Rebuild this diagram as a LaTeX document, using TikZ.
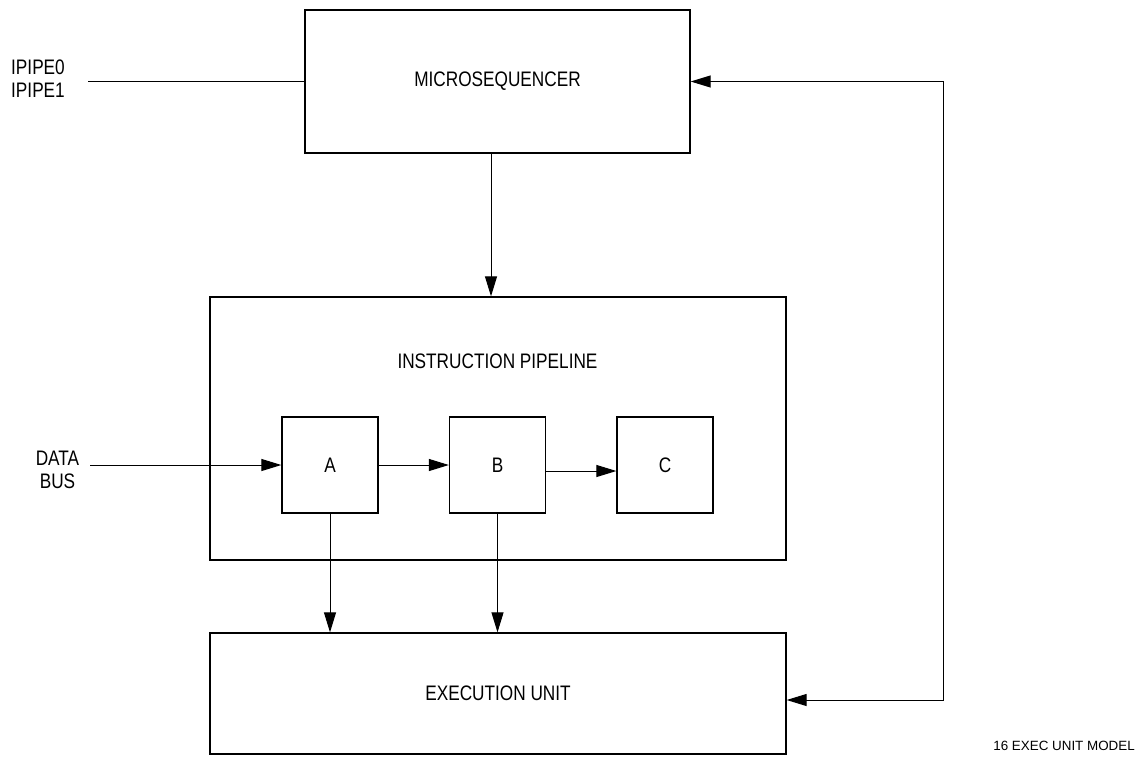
\documentclass[tikz,border=0pt]{standalone}
\usepackage{fontspec}
\setmainfont{Liberation Sans}
\newfontfamily\narrowfont[FakeStretch=0.82]{Liberation Sans}
\usetikzlibrary{arrows.meta}
\tikzset{
  box/.style={draw, line width=1.3pt, inner sep=0pt, font=\narrowfont\fontsize{21}{24}\selectfont},
  lbl/.style={inner sep=0pt, font=\narrowfont\fontsize{21}{24}\selectfont, align=center},
  conn/.style={line width=1pt},
  arr/.style={conn, -{Triangle[length=20pt,width=12pt]}},
  barr/.style={conn, {Triangle[length=20pt,width=12pt]}-{Triangle[length=20pt,width=12pt]}}
}
\begin{document}
\begin{tikzpicture}[x=1pt,y=-1pt]
\useasboundingbox (0,0) rectangle (1138,756);
% boxes
\node[box, minimum width=385pt, minimum height=143pt] (ms) at (497.5,81.5) {MICROSEQUENCER};
\node[box, minimum width=576pt, minimum height=263pt] (ip) at (498,428.5) {};
\node[lbl, anchor=base] (iplbl) at (497.5,368) {INSTRUCTION PIPELINE};
\node[box, minimum width=96pt, minimum height=96pt, text depth=-4pt] (A) at (330,465) {A};
\node[box, minimum width=96pt, minimum height=96pt, text depth=-8pt] (B) at (497.5,465) {B};
\node[box, minimum width=96pt, minimum height=96pt, text depth=-12pt] (C) at (665,465) {C};
\node[box, minimum width=576pt, minimum height=121pt] (ex) at (498,693.5) {EXECUTION UNIT};
% labels
\node[lbl, anchor=north west, align=left] (ipipe) at (11,60) {IPIPE0\\[-1pt]IPIPE1};
\node[lbl, anchor=north] (dbus) at (57.5,451) {DATA\\[-1pt]BUS};
\node[inner sep=0pt, anchor=base east, font=\fontsize{13.4}{16}\selectfont] (cap) at (1135,750) {16 EXEC UNIT MODEL};
% coordinates
\coordinate (ipl) at (88,81.5);
\coordinate (dbl) at (90,465);
\coordinate (cx) at (491,0);
\coordinate (fb1) at (943,81.5);
\coordinate (fb2) at (943,700);
% connectors
\draw[conn] (ipl) -- (ms.west);
\draw[arr] (ms.south -| cx) -- (ip.north -| cx);
\draw[arr] (dbl) -- (A.west);
\draw[arr] (A.east) -- (B.west);
\draw[arr] ([yshift=-6pt]B.east) -- ([yshift=-6pt]C.west);
\draw[arr] (A.south) -- (ex.north -| A.south);
\draw[arr] (B.south) -- (ex.north -| B.south);
\draw[barr] (ms.east) -- (fb1) -- (fb2) -- (ex.east |- fb2);
\end{tikzpicture}
\end{document}
